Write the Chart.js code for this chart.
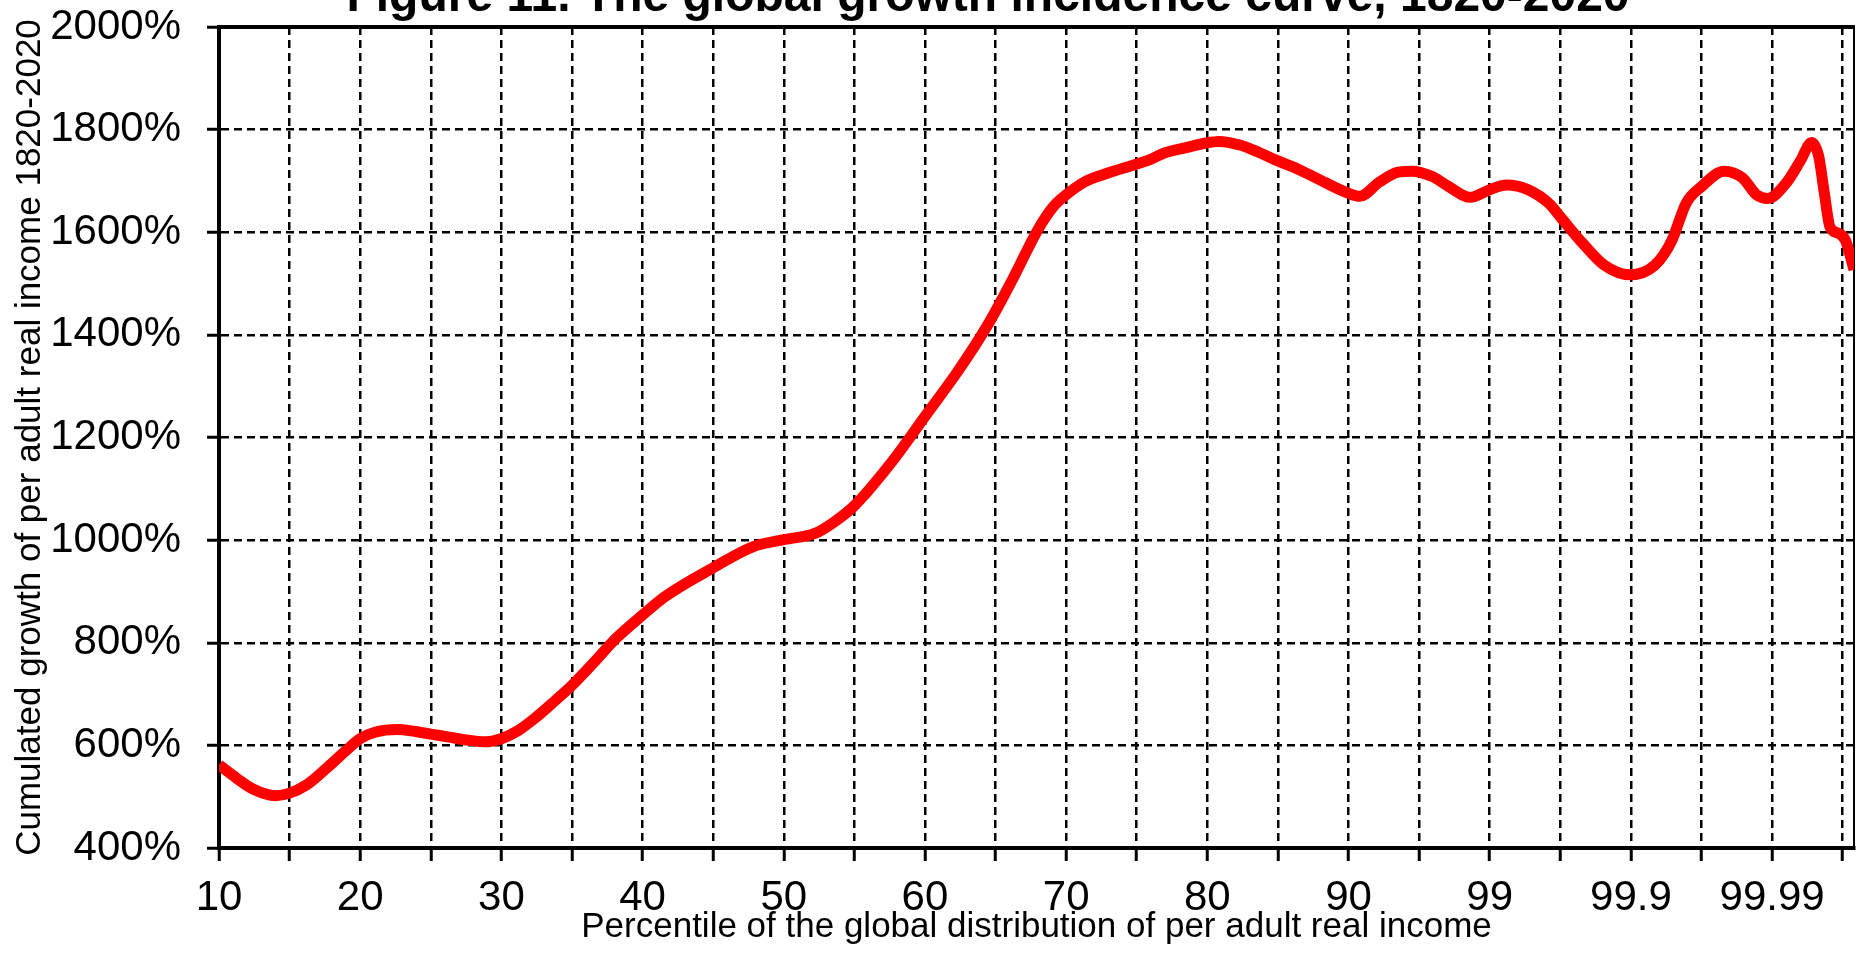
<!doctype html>
<html>

<head>
	<title>Global growth incidence curve</title>
	<meta charset=utf-8>
	<script src="https://cdn.jsdelivr.net/npm/chart.js@4.4.1/dist/chart.umd.min.js"></script>
	<style>
		body { margin: 0; background: #fff; }
		#chart-holder { width: 1856px; height: 960px; }
	</style>
</head>

<body>
	<div id="chart-holder">
		<canvas id="chart-area" width="1856" height="960"></canvas>
	</div>

	<script>
		// category labels on the x axis (one per unit of position)
		var percentileLabels = ['10', '20', '30', '40', '50', '60', '70', '80', '90', '99', '99.9', '99.99'];

		// position along the axis (0 = 10th percentile, 11 = 99.99) and cumulated growth in %
		var positions = [
			0.00, 0.12, 0.24, 0.40, 0.50, 0.62, 0.76, 0.90, 1.00, 1.11, 1.26, 1.39, 1.50, 1.63, 1.77, 1.88,
			2.00, 2.12, 2.26, 2.38, 2.50, 2.65, 2.81, 3.00, 3.16, 3.50, 3.78, 4.00, 4.22, 4.36, 4.50, 4.75,
			5.00, 5.24, 5.45, 5.62, 5.80, 5.91, 6.00, 6.13, 6.27, 6.49, 6.58, 6.70, 6.85, 6.99, 7.08, 7.23,
			7.37, 7.50, 7.65, 7.79, 7.99, 8.08, 8.22, 8.35, 8.45, 8.59, 8.71, 8.86, 9.00, 9.12, 9.27, 9.42,
			9.50, 9.66, 9.81, 9.99, 10.17, 10.29, 10.39, 10.50, 10.66, 10.79, 10.89, 10.97, 11.10, 11.20,
			11.28, 11.33, 11.37, 11.41, 11.47, 11.52, 11.58
		];
		var growth = [
			562, 537, 515, 502, 507, 523, 555, 590, 613, 626, 631, 627, 622, 616, 610, 607,
			613, 629, 658, 687, 717, 760, 808, 854, 890, 946, 987, 1001, 1013, 1036, 1067, 1147,
			1241, 1332, 1422, 1508, 1605, 1650, 1673, 1698, 1713, 1732, 1740, 1755, 1765, 1774, 1777, 1770,
			1755, 1739, 1722, 1703, 1677, 1670, 1698, 1717, 1719, 1709, 1689, 1668, 1683, 1692, 1683, 1656,
			1630, 1578, 1536, 1517, 1536, 1584, 1656, 1689, 1719, 1706, 1673, 1666, 1696, 1739,
			1775, 1748, 1676, 1610, 1598, 1584, 1527
		];

		var yTicks = [400, 2000, 200]; // min, max, step
		var xMax = 11.58;

		var fontName = "'Liberation Sans', Arial, sans-serif";

		var points = positions.map(function(p, i) {
			return { x: p, y: growth[i] };
		});

		// the chart title sits partly above the picture, as in the original figure
		var titlePlugin = {
			id: 'cutTitle',
			afterDraw: function(chart) {
				var ctx = chart.ctx;
				ctx.save();
				ctx.font = 'bold 48px ' + fontName;
				ctx.fillStyle = '#000';
				ctx.textAlign = 'center';
				ctx.textBaseline = 'alphabetic';
				ctx.fillText('Figure 11. The global growth incidence curve, 1820-2020', 988, 11);
				ctx.restore();
			}
		};

		var config = {
			type: 'line',
			data: {
				datasets: [{
					data: points,
					borderColor: '#ff0000',
					borderWidth: 11,
					pointRadius: 0,
					cubicInterpolationMode: 'monotone',
					fill: false
				}]
			},
			options: {
				responsive: false,
				devicePixelRatio: 1,
				animation: false,
				layout: { padding: 0 },
				plugins: {
					legend: { display: false },
					title: { display: false },
					tooltip: { enabled: false }
				},
				scales: {
					x: {
						type: 'linear',
						position: 'bottom',
						min: 0,
						max: xMax,
						afterFit: function(scale) { scale.height = 112; },
						ticks: {
							stepSize: 0.5,
							includeBounds: false,
							autoSkip: false,
							maxRotation: 0,
							padding: 12,
							color: '#000',
							font: { family: fontName, size: 42 },
							callback: function(v) {
								return Number.isInteger(v) ? percentileLabels[v] : '';
							}
						},
						grid: {
							color: '#000',
							lineWidth: 2.5,
							borderDash: [8, 5],
							tickLength: 13,
							tickBorderDash: [],
							tickColor: '#000',
							tickWidth: 3
						},
						border: { display: true, color: '#000', width: 4, dash: [8, 5] },
						title: {
							display: true,
							text: 'Percentile of the global distribution of per adult real income',
							color: '#000',
							font: { family: fontName, size: 35 },
							padding: { top: 0, bottom: 12 }
						}
					},
					x2: {
						type: 'linear',
						position: 'top',
						min: 0,
						max: xMax,
						afterFit: function(scale) { scale.height = 27; },
						ticks: { display: false },
						grid: { display: false },
						border: { display: true, color: '#000', width: 4 }
					},
					y: {
						position: 'left',
						min: yTicks[0],
						max: yTicks[1],
						afterFit: function(scale) {
							scale.width = 219;
							scale.paddingTop = 0;
							scale.paddingBottom = 0;
						},
						ticks: {
							stepSize: yTicks[2],
							padding: 26,
							color: '#000',
							font: { family: fontName, size: 42 },
							callback: function(v) { return v + '%'; }
						},
						grid: {
							color: '#000',
							lineWidth: 2.5,
							borderDash: [8, 5],
							tickLength: 12,
							tickBorderDash: [],
							tickColor: '#000',
							tickWidth: 3
						},
						border: { display: true, color: '#000', width: 4, dash: [8, 5] },
						title: {
							display: true,
							text: 'Cumulated growth of per adult real income 1820-2020',
							color: '#000',
							font: { family: fontName, size: 35 },
							padding: { top: 9, bottom: 0 }
						}
					},
					y2: {
						position: 'right',
						min: yTicks[0],
						max: yTicks[1],
						afterFit: function(scale) { scale.width = 2; },
						ticks: { display: false },
						grid: { display: false },
						border: { display: true, color: '#000', width: 2 }
					}
				}
			},
			plugins: [titlePlugin]
		};

		window.onload = function() {
			var ctx = document.getElementById('chart-area').getContext('2d');
			window.myLine = new Chart(ctx, config);
		};
	</script>
</body>

</html>
